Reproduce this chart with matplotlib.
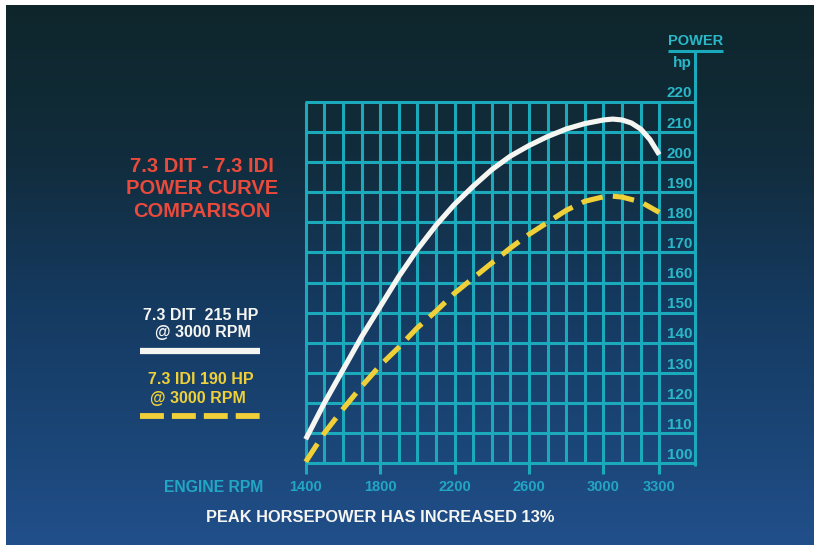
import numpy as np
import matplotlib
matplotlib.use("Agg")
import matplotlib.pyplot as plt
from matplotlib import font_manager
from matplotlib.lines import Line2D
from matplotlib.colors import LinearSegmentedColormap

# ---------------- data ----------------
dit_rpm = [1400, 1500, 1600, 1700, 1800, 1900, 2000, 2100, 2200, 2300, 2400,
           2500, 2600, 2700, 2800, 2900, 3000, 3050, 3100, 3150, 3200, 3250, 3300]
dit_hp = [108, 120, 131, 142, 152, 162, 171, 179, 186, 192, 197.5,
          202, 205.5, 208.5, 211, 212.8, 214, 214.3, 214, 213, 211, 207.5, 202.5]
idi_rpm = [1400, 1500, 1600, 1700, 1800, 1900, 2000, 2100, 2200, 2300, 2400,
           2500, 2600, 2700, 2800, 2900, 3000, 3050, 3100, 3200, 3300]
idi_hp = [100.5, 110, 118, 125.5, 132.5, 138.5, 145, 150.5, 156.5, 161.5, 166.5,
          171.5, 176, 180, 184, 187, 188.5, 188.7, 188.4, 186.8, 183.3]
x_tick_labels = [1400, 1800, 2200, 2600, 3000, 3300]
y_tick_labels = [100, 110, 120, 130, 140, 150, 160, 170, 180, 190, 200, 210, 220]
grid_rpm = list(range(1400, 3301, 100))
title_lines = ["7.3 DIT - 7.3 IDI", "POWER CURVE", "COMPARISON"]
dit_label = ["7.3 DIT  215 HP", "@ 3000 RPM"]
idi_label = ["7.3 IDI 190 HP", "@ 3000 RPM"]
x_title = "ENGINE RPM"
y_title = "POWER"
y_unit = "hp"
footer = "PEAK HORSEPOWER HAS INCREASED 13%"

# ---------------- style ----------------
names = {f.name for f in font_manager.fontManager.ttflist}
REG = ["Liberation Sans", "DejaVu Sans"]
NARROW = (["Liberation Sans Narrow"] if "Liberation Sans Narrow" in names else []) + REG

GRID = "#1aaabb"
TEAL_TXT = "#22a6c4"
CYAN_TXT = "#2ab8c8"
RED = "#ea4a3c"
WHITE = "#f5f5f2"
YELLOW = "#efd038"

W, H = 814, 545
fig = plt.figure(figsize=(W / 100, H / 100), dpi=100, facecolor="white")

def fx(px):
    return px / W

def fy(py):
    return 1 - py / H

# background gradient
bg = fig.add_axes([fx(6), 0, fx(W - 6), (H - 5) / H])
cmap = LinearSegmentedColormap.from_list(
    "bg", [(0.0, "#0e262b"), (0.28, "#112c3c"), (0.55, "#153a60"),
           (0.82, "#1b4678"), (1.0, "#214f8a")])
grad = np.linspace(0, 1, 256).reshape(-1, 1)
bg.imshow(grad, aspect="auto", cmap=cmap, extent=[0, 1, 0, 1], origin="upper")
bg.set_axis_off()

# main chart axes
x_left, x_right = 305.7, 695.0
y_bottom, y_top = 463.3, 50.7
ax = fig.add_axes([fx(x_left), fy(y_bottom), fx(x_right - x_left), (y_bottom - y_top) / H])
ax.set_facecolor("none")
ax.set_xlim(1400, 3492)
ax.set_ylim(100, 237)
ax.set_axis_off()

x_axis_end = 3492
glw = 2.2
# vertical grid lines
ax.vlines(grid_rpm, 100, 220, color=GRID, lw=glw, clip_on=False)
# tick marks below
ax.vlines(x_tick_labels, 96.6, 100, color=GRID, lw=glw, clip_on=False)
# horizontal grid lines
ax.hlines(y_tick_labels, 1400 - 3, x_axis_end, color=GRID, lw=glw, clip_on=False)
# right power axis
ax.vlines([x_axis_end], 99.0, 237, color=GRID, lw=glw, clip_on=False)
ax.hlines([237], 3347, 3642, color=GRID, lw=glw, clip_on=False)

# curves
ax.plot(dit_rpm, dit_hp, color=WHITE, lw=3.7, solid_capstyle="butt",
        solid_joinstyle="round", clip_on=False, zorder=5)
ax.plot(idi_rpm, idi_hp, color=YELLOW, lw=3.7, dashes=(4.2, 2.0), dash_capstyle="butt",
        clip_on=False, zorder=5)

# tick labels
for v in x_tick_labels:
    ax.text(v, 92.1, str(v), ha="center", va="center", color=TEAL_TXT,
            fontsize=10.5, fontweight="bold", family=REG)
for v in y_tick_labels:
    ax.text(3476, v + 2.8, str(v), ha="right", va="center", color=CYAN_TXT,
            fontsize=11, fontweight="bold", family=REG)
ax.text(3497, 237.8, y_title, ha="center", va="bottom", color=CYAN_TXT,
        fontsize=10.5, fontweight="bold", family=REG)
ax.text(3422, 232.9, y_unit, ha="center", va="center", color=CYAN_TXT,
        fontsize=11, fontweight="bold", family=REG)

fig.text(fx(263), fy(487), x_title, ha="right", va="center", color=TEAL_TXT,
         fontsize=11.3, fontweight="bold", family=NARROW)

# title
for line, py in zip(title_lines, [166.7, 189.0, 211.0]):
    fig.text(fx(201.7), fy(py), line, ha="center", va="center", color=RED,
             fontsize=14.5, fontweight="bold", family=REG)

# legend text
for line, py, px in zip(dit_label, [315, 333], [200.8, 203]):
    fig.text(fx(px), fy(py), line, ha="center", va="center", color=WHITE,
             fontsize=11.5, fontweight="bold", family=REG)
for line, py, px in zip(idi_label, [380, 398], [200.8, 198]):
    fig.text(fx(px), fy(py), line, ha="center", va="center", color=YELLOW,
             fontsize=11.5, fontweight="bold", family=REG)

# legend samples
fig.add_artist(Line2D([fx(140), fx(260)], [fy(350.7), fy(350.7)], color=WHITE, lw=4.5,
                      solid_capstyle="butt", transform=fig.transFigure))
fig.add_artist(Line2D([fx(140), fx(264)], [fy(416), fy(416)], color=YELLOW, lw=4.2,
                      dashes=(4.1, 1.37), dash_capstyle="butt", transform=fig.transFigure))

# footer
fig.text(fx(380), fy(518), footer, ha="center", va="center", color=WHITE,
         fontsize=11.8, fontweight="bold", family=NARROW)

fig.savefig("out.png", dpi=100, facecolor=fig.get_facecolor())
